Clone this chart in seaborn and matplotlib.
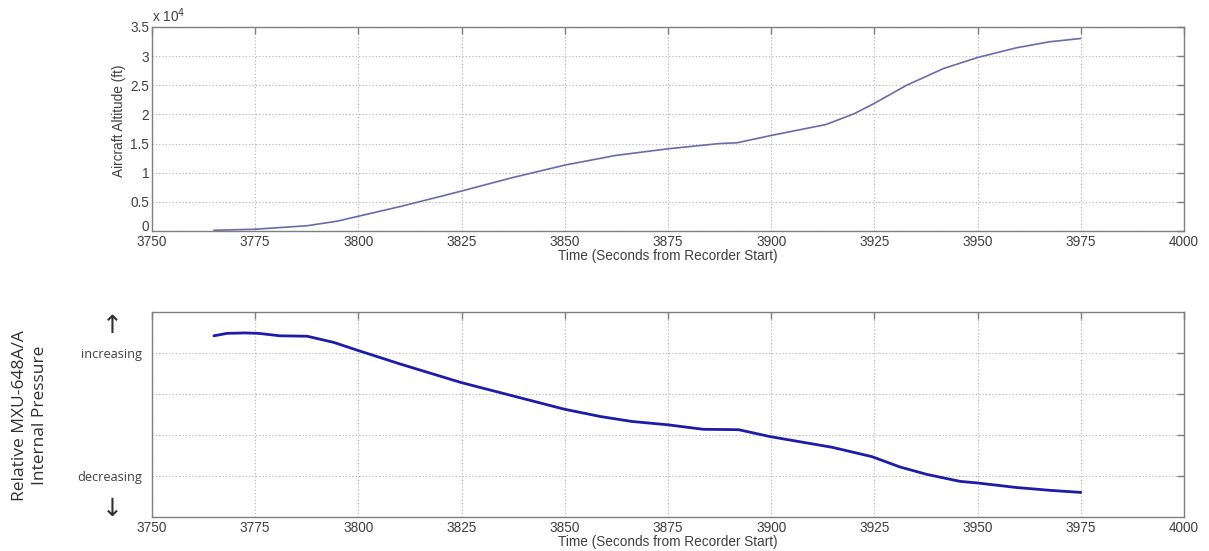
import numpy as np
import pandas as pd
import matplotlib
matplotlib.use("Agg")
import matplotlib.pyplot as plt
from matplotlib.ticker import FuncFormatter, FixedLocator
import seaborn as sns

# ---- data ----
alt_time = [3765, 3775, 3787.6, 3795, 3800, 3810.3, 3825, 3837, 3850, 3862.3,
            3875, 3887.4, 3891.7, 3900, 3913.3, 3920.2, 3925, 3932.8, 3941.7,
            3950, 3959.4, 3967.4, 3975]
alt_ft = [120, 300, 900, 1700, 2530, 4220, 6850, 9100, 11300, 12960,
          14100, 15000, 15130, 16390, 18270, 20150, 21900, 25000, 27860,
          29770, 31430, 32460, 33030]

prs_time = [3765, 3768.2, 3772.5, 3775.8, 3781, 3787.6, 3794, 3800, 3810.2,
            3824.9, 3837.2, 3849.9, 3858.7, 3866.3, 3874.9, 3883.5, 3892.1,
            3899.8, 3914.8, 3924.5, 3931.2, 3937.7, 3945.7, 3950, 3959.4,
            3967.6, 3975]
prs_rel = [4.42, 4.48, 4.49, 4.48, 4.42, 4.41, 4.26, 4.06, 3.73, 3.28, 2.96,
           2.63, 2.45, 2.33, 2.25, 2.14, 2.13, 1.96, 1.70, 1.47, 1.22, 1.04,
           0.87, 0.83, 0.72, 0.65, 0.60]

x_ticks = [3750, 3775, 3800, 3825, 3850, 3875, 3900, 3925, 3950, 3975, 4000]
alt_ticks = [0, 5000, 10000, 15000, 20000, 25000, 30000, 35000]
prs_ticks = [1, 2, 3, 4]
prs_tick_labels = ["decreasing", "", "", "increasing"]

df_alt = pd.DataFrame({"t": alt_time, "alt": alt_ft})
df_prs = pd.DataFrame({"t": prs_time, "p": prs_rel})

sns.set_style("white")
plt.rcParams["font.family"] = ["Liberation Sans", "DejaVu Sans"]

fig = plt.figure(figsize=(12.09, 5.51), dpi=100)
ax1 = fig.add_axes([0.1257, 0.5808, 0.8536, 0.3702])
ax2 = fig.add_axes([0.1257, 0.0617, 0.8536, 0.3720])

spine_col = "#7f7f7f"
lab_col = "#404040"
fs = 9.8
grid_kw = dict(color="#b0b0b0", linestyle=(0, (1, 2)), linewidth=0.8)

for ax in (ax1, ax2):
    ax.set_xlim(3750, 4000)
    ax.xaxis.set_major_locator(FixedLocator(x_ticks))
    ax.grid(True, **grid_kw)
    ax.tick_params(direction="in", length=5, width=1, color=spine_col,
                   top=True, right=True, labelsize=fs, labelcolor=lab_col,
                   pad=2)
    ax.tick_params(axis="x", pad=3)
    for s in ax.spines.values():
        s.set_color(spine_col)
        s.set_linewidth(1)
    ax.set_xlabel("Time (Seconds from Recorder Start)", fontsize=fs,
                  color=lab_col, labelpad=0)

sns.lineplot(data=df_alt, x="t", y="alt", ax=ax1, color="#6a6aaa", lw=1.2)
ax1.set_ylim(0, 35000)
ax1.yaxis.set_major_locator(FixedLocator(alt_ticks))
ax1.yaxis.set_major_formatter(FuncFormatter(lambda v, p: f"{v/1e4:g}"))
ax1.set_ylabel("Aircraft Altitude (ft)", fontsize=fs, color=lab_col)
ax1.yaxis.set_label_coords(-0.025, 0.54)
ax1.text(0.0, 1.008, r"x 10$^4$", transform=ax1.transAxes, fontsize=fs,
         color=lab_col, ha="left", va="bottom")
fig.canvas.draw()
ax1.get_yticklabels()[0].set_verticalalignment("baseline")

sns.lineplot(data=df_prs, x="t", y="p", ax=ax2, color="#1c1ca8", lw=2)
ax2.set_ylim(0, 5)
ax2.yaxis.set_major_locator(FixedLocator(prs_ticks))
ax2.set_yticklabels(prs_tick_labels, fontfamily="Open Sans", fontsize=9.2,
                    color="#404040")
ax2.set_ylabel("")
ax2.tick_params(axis="y", pad=7)

fig.text(0.0245, 0.246, "Relative MXU-648A/A\nInternal Pressure", rotation=90,
         ha="center", va="center", fontsize=12.5, family="Open Sans",
         color="#303030", linespacing=1.35)
fig.text(0.093, 0.408, "\u2191", ha="center", va="center", fontsize=18,
         family="DejaVu Sans", color="#303030")
fig.text(0.093, 0.076, "\u2193", ha="center", va="center", fontsize=18,
         family="DejaVu Sans", color="#303030")

fig.savefig("out.png", dpi=100, facecolor="white")
